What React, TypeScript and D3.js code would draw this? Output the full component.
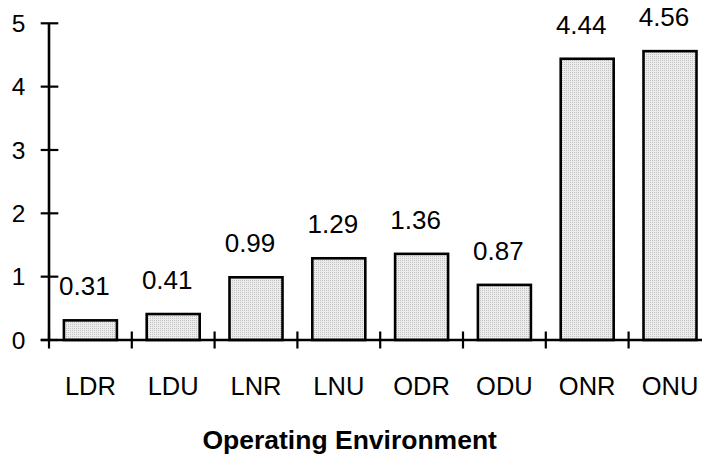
import React from "react";
import * as d3 from "d3";

const categories = ["LDR", "LDU", "LNR", "LNU", "ODR", "ODU", "ONR", "ONU"];
const values = [0.31, 0.41, 0.99, 1.29, 1.36, 0.87, 4.44, 4.56];
const valueLabels = ["0.31", "0.41", "0.99", "1.29", "1.36", "0.87", "4.44", "4.56"];
const yTicks = [0, 1, 2, 3, 4, 5];
const xTitle = "Operating Environment";

const W = 702;
const H = 455;
const FONT = "'Liberation Sans', Arial, sans-serif";

export default function App() {
  const x = d3.scaleBand<string>().domain(categories).range([49, 711.4]).padding(0);
  const y = d3.scaleLinear().domain([0, 5]).range([340, 23.3]);
  const bw = x.bandwidth() * 0.64;
  const boundaries = categories.map((c) => x(c) as number);

  return (
    <svg
      width={W}
      height={H}
      style={{ position: "absolute", left: 0, top: 0, background: "#fff" }}
    >
      <defs>
        <pattern id="dots" width="2" height="2" patternUnits="userSpaceOnUse">
          <rect width="2" height="2" fill="#ececec" />
          <rect width="1" height="1" fill="#c2c2c2" />
        </pattern>
      </defs>

      {categories.map((c, i) => {
        const cx = (x(c) as number) + x.bandwidth() / 2;
        return (
          <g key={c}>
            <rect
              x={cx - bw / 2}
              y={y(values[i])}
              width={bw}
              height={y(0) - y(values[i])}
              fill="url(#dots)"
              stroke="#000"
              strokeWidth={2.6}
            />
            <text
              x={cx - 6}
              y={y(values[i]) - 25}
              textAnchor="middle"
              fontFamily={FONT}
              fontSize={26}
              fill="#000"
            >
              {valueLabels[i]}
            </text>
            <text
              x={cx}
              y={395}
              textAnchor="middle"
              fontFamily={FONT}
              fontSize={25.5}
              fill="#000"
            >
              {c}
            </text>
          </g>
        );
      })}

      {/* y axis */}
      <line x1={49} x2={49} y1={y(5)} y2={y(0)} stroke="#000" strokeWidth={2.6} />
      {yTicks.map((t) => (
        <g key={t}>
          <line x1={40.7} x2={58.3} y1={y(t)} y2={y(t)} stroke="#000" strokeWidth={2.2} />
          <text
            x={25.5}
            y={y(t)}
            dy="0.36em"
            textAnchor="end"
            fontFamily={FONT}
            fontSize={24.5}
            fill="#000"
          >
            {t}
          </text>
        </g>
      ))}

      {/* x axis */}
      <line x1={40.7} x2={W + 10} y1={y(0)} y2={y(0)} stroke="#000" strokeWidth={2.6} />
      {boundaries.map((b, i) => (
        <line key={i} x1={b} x2={b} y1={y(0) - 8.5} y2={y(0) + 8.5} stroke="#000" strokeWidth={2.2} />
      ))}

      <text
        x={349.7}
        y={449}
        textAnchor="middle"
        fontFamily={FONT}
        fontSize={26.5}
        fontWeight="bold"
        fill="#000"
      >
        {xTitle}
      </text>
    </svg>
  );
}
